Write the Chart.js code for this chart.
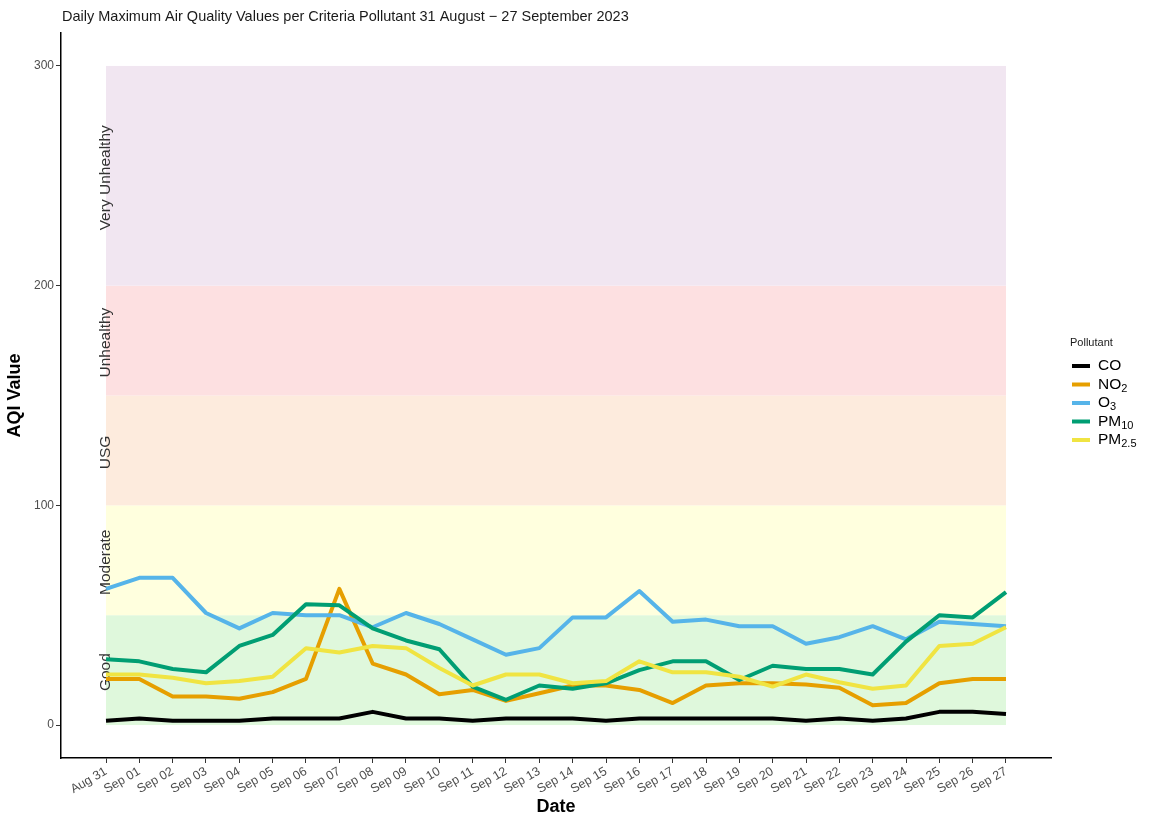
<!DOCTYPE html>
<html>
<head>
<meta charset="utf-8">
<title>Daily Maximum AQI per Pollutant</title>
<script src="https://cdn.jsdelivr.net/npm/chart.js@4.4.0/dist/chart.umd.min.js"></script>
<style>
  html, body { margin: 0; padding: 0; background: #fff; }
  #wrap { width: 1149px; height: 817px; }
</style>
</head>
<body>
<div id="wrap"><canvas id="aqiChart" width="1149" height="817"></canvas></div>
<script>
/* Daily maximum AQI per criteria pollutant, 31 Aug – 27 Sep 2023 */

const dates = ['Aug 31','Sep 01','Sep 02','Sep 03','Sep 04','Sep 05','Sep 06','Sep 07','Sep 08','Sep 09',
  'Sep 10','Sep 11','Sep 12','Sep 13','Sep 14','Sep 15','Sep 16','Sep 17','Sep 18','Sep 19',
  'Sep 20','Sep 21','Sep 22','Sep 23','Sep 24','Sep 25','Sep 26','Sep 27'];

const co   = [2, 3, 2, 2, 2, 3, 3, 3, 6, 3, 3, 2, 3, 3, 3, 2, 3, 3, 3, 3, 3, 2, 3, 2, 3, 6, 6, 5];
const no2  = [21, 21, 13, 13, 12, 15, 21, 62, 28, 23, 14, 16, 11, 14.5, 18, 18, 16, 10, 18, 19, 19, 18.5, 17, 9, 10, 19, 21, 21];
const o3   = [62, 67, 67, 51, 44, 51, 50, 50, 44.5, 51, 46, 39, 32, 35, 49, 49, 61, 47, 48, 45, 45, 37, 40, 45, 39, 47, 46, 45];
const pm10 = [30, 29, 25.5, 24, 36, 41, 55, 54.5, 44, 38.5, 34.5, 17.5, 11.5, 18, 16.5, 19, 25, 29, 29, 20.5, 27, 25.5, 25.5, 23, 38, 50, 49, 60.5];
const pm25 = [23, 23, 21.5, 19, 20, 22, 35, 33, 36, 35, 26, 18, 23, 23, 19, 20, 29, 24, 24, 22, 17.5, 23, 19.5, 16.5, 18, 36, 37, 44.5];

const pollutantBase = ['CO', 'NO', 'O', 'PM', 'PM'];
const pollutantSub  = ['', '2', '3', '10', '2.5'];
const lineColors    = ['#000000', '#E69F00', '#56B4E9', '#009E73', '#F0E442'];

const bandNames  = ['Good', 'Moderate', 'USG', 'Unhealthy', 'Very Unhealthy'];
const bandLow    = [0, 50, 100, 150, 200];
const bandHigh   = [50, 100, 150, 200, 300];
const bandColors = ['#dff8dc', '#ffffde', '#fdebdd', '#fde0e1', '#f1e6f1'];

const yTicks = [0, 100, 200, 300];

const FONT = '"Liberation Sans", Arial, sans-serif';

// AQI category bands + their rotated labels, behind the lines
const bandsPlugin = {
  id: 'bands',
  beforeDatasetsDraw(chart) {
    const { ctx, scales: { x, y } } = chart;
    const x0 = x.getPixelForValue(0), x1 = x.getPixelForValue(dates.length - 1);
    ctx.save();
    bandNames.forEach((name, i) => {
      const yt = y.getPixelForValue(bandHigh[i]), yb = y.getPixelForValue(bandLow[i]);
      ctx.fillStyle = bandColors[i];
      ctx.fillRect(x0, yt, x1 - x0, yb - yt);
    });
    ctx.fillStyle = '#333';
    ctx.font = '15.5px ' + FONT;
    ctx.textAlign = 'center';
    ctx.textBaseline = 'middle';
    bandNames.forEach((name, i) => {
      const yc = y.getPixelForValue((bandLow[i] + bandHigh[i]) / 2) + 2;
      ctx.save();
      ctx.translate(x0, yc);
      ctx.rotate(-Math.PI / 2);
      ctx.fillText(name, 0, 0);
      ctx.restore();
    });
    ctx.restore();
  }
};

// plot title (left aligned to the panel) and the legend with subscripts
const decorPlugin = {
  id: 'decor',
  afterDraw(chart) {
    const { ctx, chartArea } = chart;
    ctx.save();
    ctx.fillStyle = '#1a1a1a';
    ctx.font = '14.5px ' + FONT;
    ctx.textAlign = 'left';
    ctx.textBaseline = 'middle';
    ctx.fillText('Daily Maximum Air Quality Values per Criteria Pollutant 31 August \u2212 27 September 2023', chartArea.left + 1, 17);

    const lx = 1070;
    ctx.font = '11px ' + FONT;
    ctx.fillText('Pollutant', lx, 343);
    pollutantBase.forEach((base, i) => {
      const yy = 366 + i * 18.5;
      ctx.strokeStyle = lineColors[i];
      ctx.lineWidth = 4;
      ctx.beginPath();
      ctx.moveTo(lx + 2, yy);
      ctx.lineTo(lx + 20, yy);
      ctx.stroke();
      ctx.fillStyle = '#000';
      ctx.font = '15.5px ' + FONT;
      ctx.fillText(base, lx + 28, yy);
      if (pollutantSub[i]) {
        const w = ctx.measureText(base).width;
        ctx.font = '11px ' + FONT;
        ctx.fillText(pollutantSub[i], lx + 28 + w, yy + 4);
      }
    });
    ctx.restore();
  }
};

const series = [co, no2, o3, pm10, pm25];

new Chart(document.getElementById('aqiChart'), {
  type: 'line',
  data: {
    datasets: series.map((vals, i) => ({
      label: pollutantBase[i] + pollutantSub[i],
      data: vals.map((v, k) => ({ x: k, y: v })),
      borderColor: lineColors[i],
      backgroundColor: lineColors[i],
      borderWidth: 4,
      borderJoinStyle: 'round',
      pointRadius: 0,
      tension: 0,
      order: series.length - i
    }))
  },
  options: {
    responsive: false,
    animation: false,
    layout: { padding: { left: 0, right: 98, top: 33, bottom: 0 } },
    plugins: { legend: { display: false }, title: { display: false }, tooltip: { enabled: false } },
    scales: {
      x: {
        type: 'linear',
        min: -1.35,
        max: 28.35,
        afterBuildTicks: s => { s.ticks = dates.map((d, i) => ({ value: i })); },
        afterFit: s => { s.height = 59; },
        ticks: {
          autoSkip: false, minRotation: 30, maxRotation: 30, padding: 1,
          color: '#4d4d4d', font: { family: FONT, size: 12.5 },
          callback: v => dates[v]
        },
        grid: { drawOnChartArea: false, tickLength: 5, color: '#333' },
        border: { color: '#000', width: 1.5 },
        title: { display: true, text: 'Date', color: '#000', font: { family: FONT, size: 18, weight: 'bold' }, padding: { top: 0, bottom: -1 } }
      },
      y: {
        min: -15,
        max: 315,
        afterBuildTicks: s => { s.ticks = yTicks.map(v => ({ value: v })); },
        afterFit: s => { s.width = 61; },
        ticks: { padding: 2, color: '#4d4d4d', font: { family: FONT, size: 12 } },
        grid: { drawOnChartArea: false, tickLength: 5, color: '#333' },
        border: { color: '#000', width: 1.5 },
        title: { display: true, text: 'AQI Value', color: '#000', font: { family: FONT, size: 18, weight: 'bold' }, padding: { top: 4, bottom: 0 } }
      }
    }
  },
  plugins: [bandsPlugin, decorPlugin]
});
</script>
</body>
</html>
